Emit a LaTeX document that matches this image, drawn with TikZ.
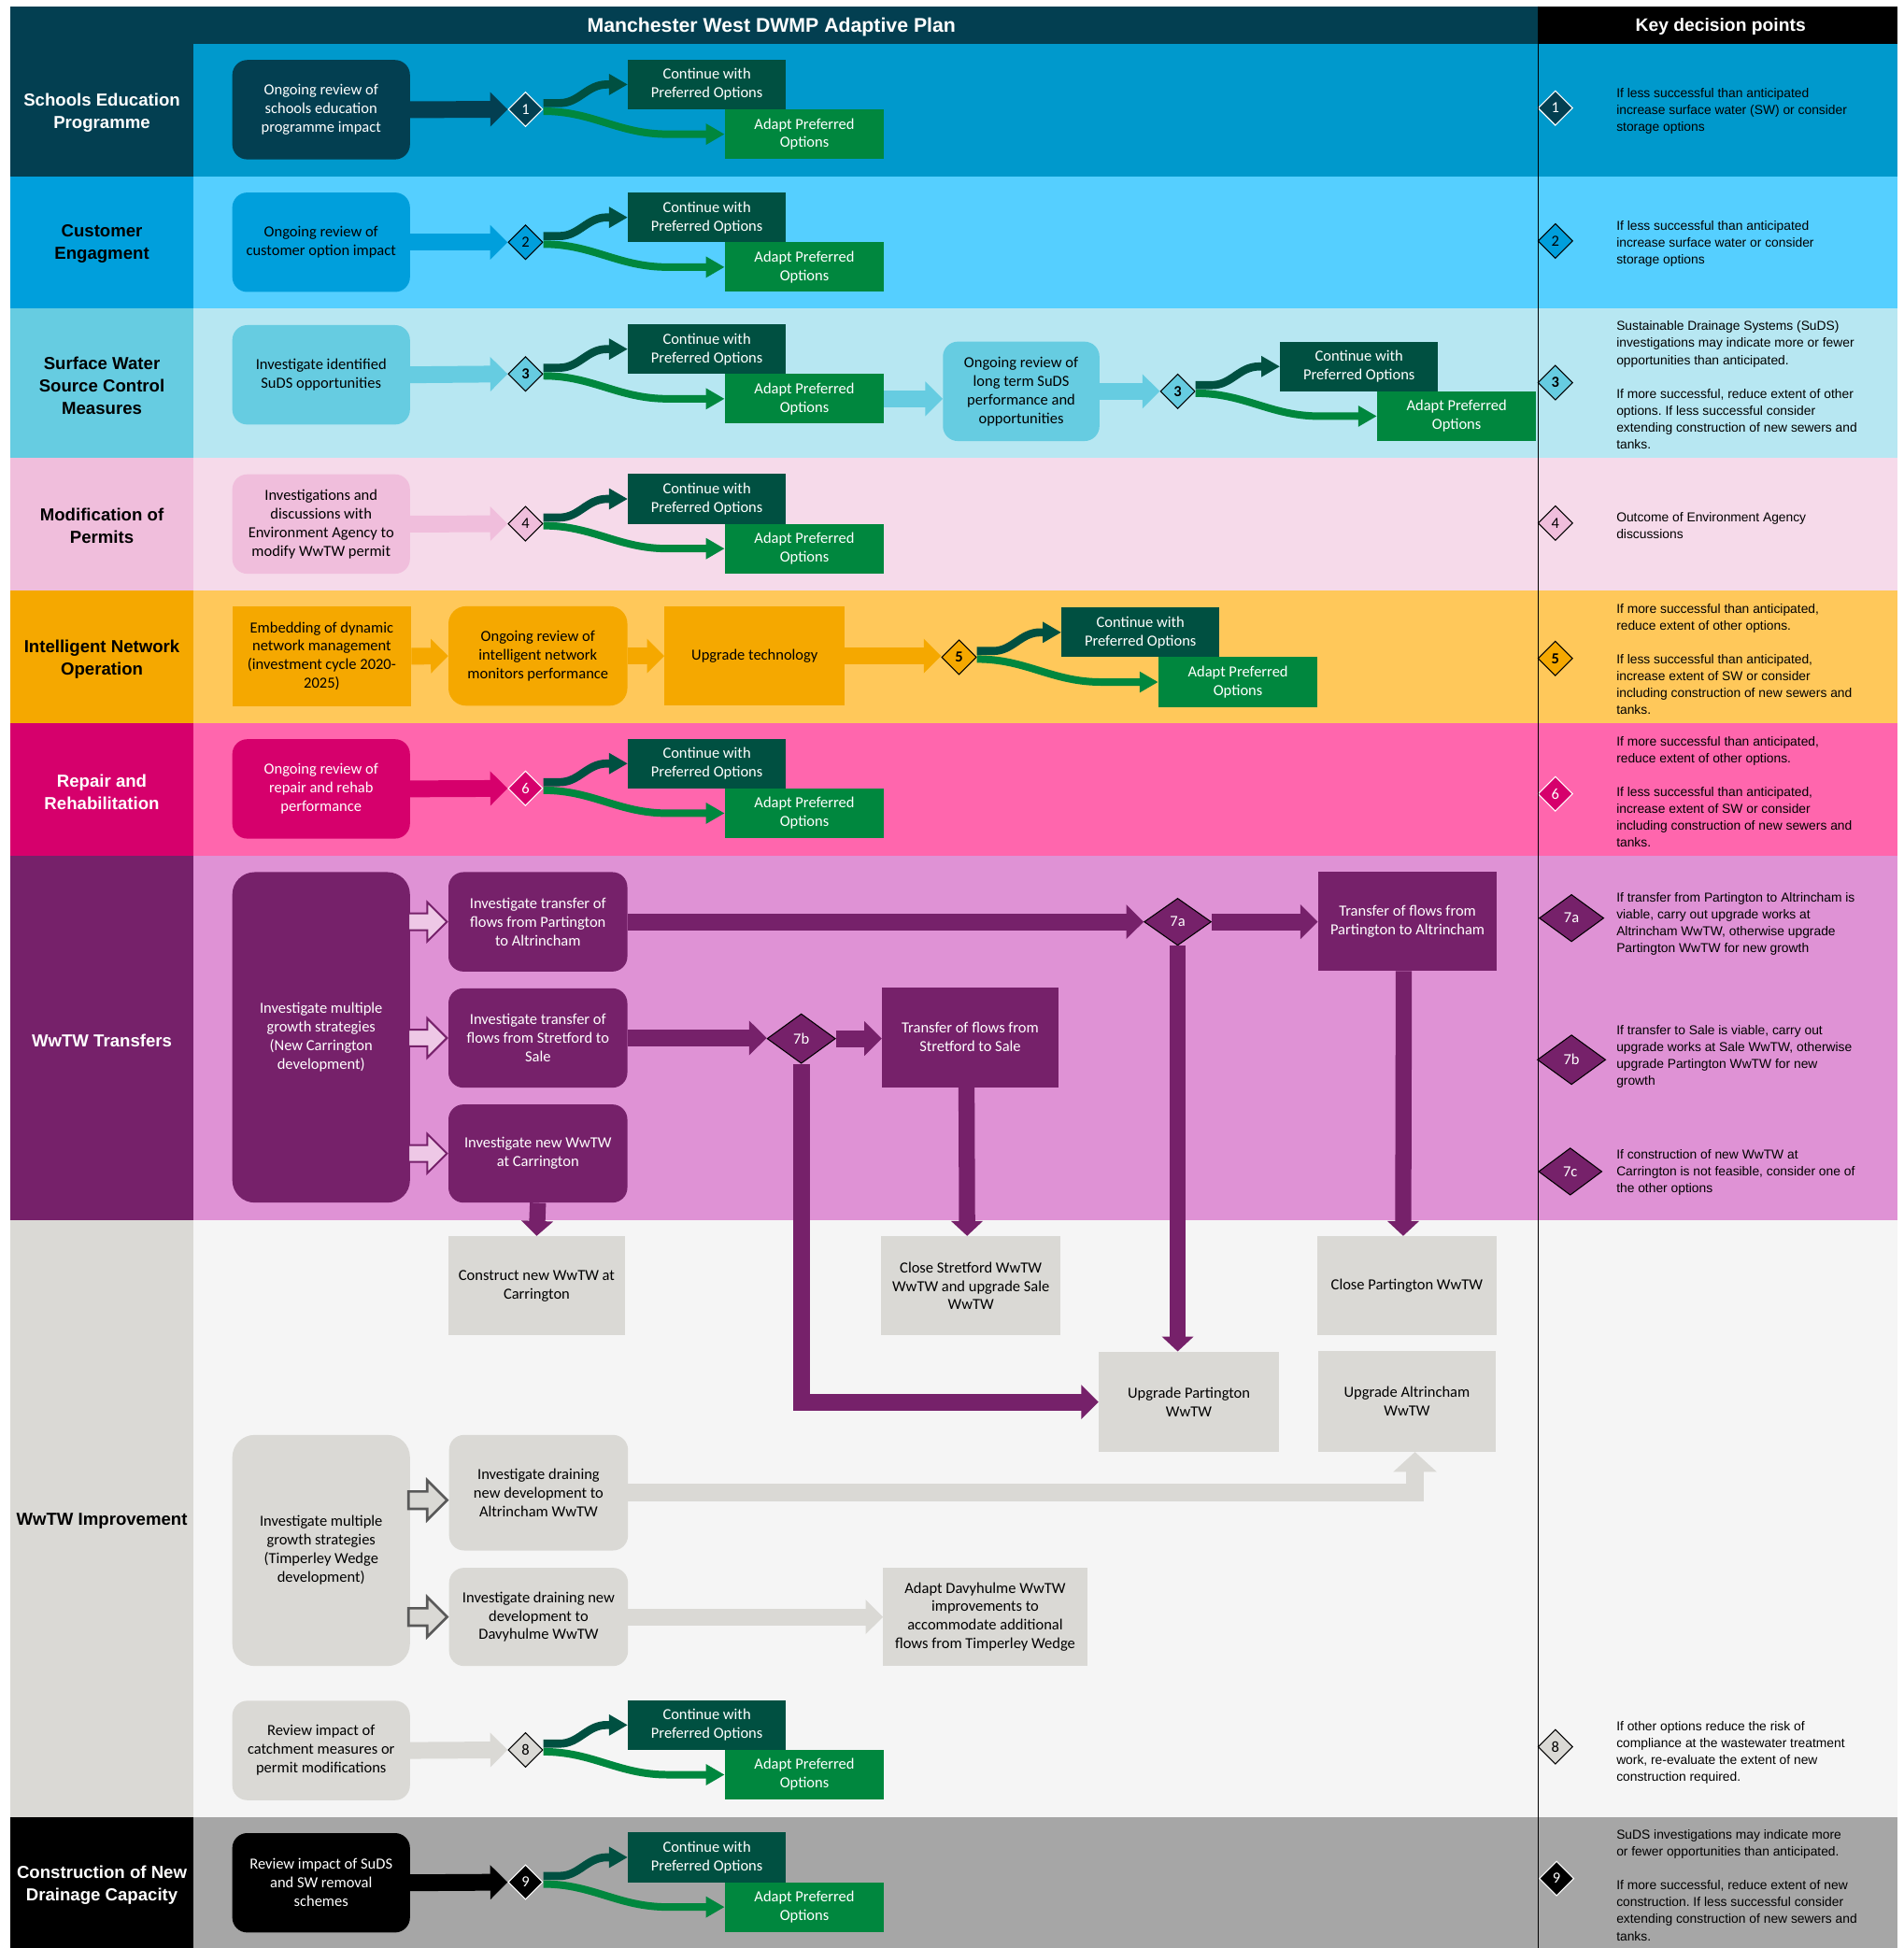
\documentclass[tikz,border=0pt]{standalone}
\usepackage{fontspec}
\setmainfont{Carlito}
\newfontfamily\arialfont{Liberation Sans}
\usetikzlibrary{arrows.meta,shapes.geometric,shapes.arrows}

% palette
\definecolor{hdrteal}{HTML}{033F51}
\definecolor{bandA}{HTML}{0099CC}
\definecolor{labB}{HTML}{009FDC}
\definecolor{bandB}{HTML}{55CFFF}
\definecolor{labC}{HTML}{66CCE1}
\definecolor{bandC}{HTML}{B7E7F2}
\definecolor{labD}{HTML}{F0BEDC}
\definecolor{bandD}{HTML}{F6DAEA}
\definecolor{labE}{HTML}{F5A800}
\definecolor{bandE}{HTML}{FFC85A}
\definecolor{labF}{HTML}{D6006C}
\definecolor{bandF}{HTML}{FF66AD}
\definecolor{labG}{HTML}{76216A}
\definecolor{bandG}{HTML}{DF92D5}
\definecolor{labH}{HTML}{DAD9D5}
\definecolor{bandH}{HTML}{F5F5F5}
\definecolor{bandI}{HTML}{A6A6A6}
\definecolor{contgreen}{HTML}{005041}
\definecolor{adaptgreen}{HTML}{00873E}
\definecolor{hollowpink}{HTML}{EEC8E6}
\definecolor{hollowedge}{HTML}{595959}

\newcommand\boxfont{\fontsize{12.4}{15}\selectfont}
\newcommand\lblfont{\arialfont\bfseries\fontsize{14}{18}\selectfont}
\newcommand\notefont{\arialfont\fontsize{10.4}{13.6}\selectfont\frenchspacing}

\tikzset{
  lbl/.style={font=\lblfont, align=center, inner sep=0pt},
  src/.style={rounded corners=12pt, minimum width=143pt, minimum height=80pt, inner sep=2pt, align=center, font=\boxfont},
  sq/.style={minimum width=144pt, minimum height=80pt, inner sep=2pt, align=center, font=\boxfont},
  contbox/.style={fill=contgreen, text=white, minimum width=127pt, minimum height=40pt, inner sep=0pt, align=center, font=\boxfont},
  adaptbox/.style={fill=adaptgreen, text=white, minimum width=128pt, minimum height=40pt, inner sep=0pt, align=center, font=\boxfont},
  dmd/.style={diamond, minimum width=28pt, minimum height=28pt, inner sep=0pt, line width=0.8pt, font=\boxfont},
  dA/.style={fill=hdrteal, draw=white, text=white},
  dB/.style={fill=labB, draw=black},
  dC/.style={fill=labC, draw=black, font=\boxfont\bfseries},
  dD/.style={fill=labD, draw=black},
  dE/.style={fill=labE, draw=black, font=\boxfont\bfseries},
  dF/.style={fill=labF, draw=white, text=white},
  dH/.style={fill=labH, draw=black},
  dI/.style={fill=black, draw=white, text=white},
  bigdmd/.style={diamond, minimum width=54pt, minimum height=38pt, inner sep=0pt, line width=0.8pt, font=\boxfont, fill=labG, draw=black, text=white},
  contcurve/.style={draw=contgreen, line width=6.5pt, -{Triangle[length=15pt,width=16pt]}},
  adaptcurve/.style={draw=adaptgreen, line width=6pt, -{Triangle[length=15pt,width=16pt]}},
  flow/.style={line width=13.5pt, -{Triangle[length=14pt,width=27pt]}},
  flowv/.style={line width=13pt, -{Triangle[length=12pt,width=25pt]}},
  flowwide/.style={line width=14pt, -{Triangle[length=16pt,width=34pt]}},
  hollow/.style={single arrow, minimum height=31pt, minimum width=30pt, single arrow head extend=9pt, inner xsep=0pt, inner ysep=6pt, line width=1.5pt},
  note/.style={font=\notefont, align=left, anchor=west, inner sep=0pt},
}

% decision point: diamond plus its two outcome boxes and the curved links
\newcommand\decision[5]{%
  \node[#5] (d#1) at (#2,#3) {#4};
  \node[contbox] (c#1) at (#2+146,#3-20) {Continue with\\Preferred Options};
  \node[adaptbox] (a#1) at (#2+224.5,#3+20) {Adapt Preferred\\Options};
  \draw[contcurve] ([yshift=5pt]d#1.east) -- ++(13,0) to[out=0,in=180] ++(38,-15) -- (c#1.west);
  \draw[adaptcurve] ([yshift=-1.5pt]d#1.east) to[out=0,in=180] ++(100,18.5) -- (a#1.west);
}

\begin{document}
\begin{tikzpicture}[x=1pt,y=-1pt]
\useasboundingbox (0,0) rectangle (1532,1568);
\fill[white] (0,0) rectangle (1532,1568);

% header strip
\fill[hdrteal] (8,5) rectangle (1238,35.3);
\fill[black] (1238,5) rectangle (1527,35.3);
\node[font=\arialfont\bfseries\fontsize{16}{18}\selectfont, text=white] (title) at (621,21.5) {Manchester West DWMP Adaptive Plan};
\node[font=\arialfont\bfseries\fontsize{14.5}{18}\selectfont, text=white] (keyhdr) at (1385,21.5) {Key decision points};

% swim lanes: label column and lane body
\fill[hdrteal] (8,35.3) rectangle (156,142);   \fill[bandA] (156,35.3) rectangle (1527,142);
\fill[labB] (8,142) rectangle (156,248);       \fill[bandB] (156,142) rectangle (1527,248);
\fill[labC] (8,248) rectangle (156,368.5);     \fill[bandC] (156,248) rectangle (1527,368.5);
\fill[labD] (8,368.5) rectangle (156,475);     \fill[bandD] (156,368.5) rectangle (1527,475);
\fill[labE] (8,475) rectangle (156,582);       \fill[bandE] (156,475) rectangle (1527,582);
\fill[labF] (8,582) rectangle (156,689);       \fill[bandF] (156,582) rectangle (1527,689);
\fill[labG] (8,689) rectangle (156,982);       \fill[bandG] (156,689) rectangle (1527,982);
\fill[labH] (8,982) rectangle (156,1463);      \fill[bandH] (156,982) rectangle (1527,1463);
\fill[black] (8,1463) rectangle (156,1568);    \fill[bandI] (156,1463) rectangle (1527,1568);

% lane titles
\node[lbl, text=white] (L1) at (82,90.5) {Schools Education\\Programme};
\node[lbl] (L2) at (82,196.5) {Customer\\Engagment};
\node[lbl] (L3) at (82,310.5) {Surface Water\\Source Control\\Measures};
\node[lbl] (L4) at (82,423.5) {Modification of\\Permits};
\node[lbl] (L5) at (82,530.5) {Intelligent Network\\Operation};
\node[lbl, text=white] (L6) at (82,637.5) {Repair and\\Rehabilitation};
\node[lbl, text=white] (L7) at (82,837.5) {WwTW Transfers};
\node[lbl] (L8) at (82,1224.5) {WwTW Improvement};
\node[lbl, text=white] (L9) at (82,1517.5) {Construction of New\\Drainage Capacity};

% schools education
\node[src, fill=hdrteal, text=white] (s1) at (258.5,88.3) {Ongoing review of\\schools education\\programme impact};
\decision{1}{423}{88}{1}{dmd,dA}
\draw[flow,hdrteal] (s1.east) -- (d1.west);

% customer engagement
\node[src, fill=labB] (s2) at (258.5,195) {Ongoing review of\\customer option impact};
\decision{2}{423}{195}{2}{dmd,dB}
\draw[flow,labB] (s2.east) -- (d2.west);

% surface water source control
\node[src, fill=labC] (s3) at (258.5,301.7) {Investigate identified\\SuDS opportunities};
\decision{3}{423}{301}{3}{dmd,dC}
\draw[flow,labC] (s3.east) -- (d3.west);
\node[src, fill=labC, minimum width=126pt] (s3b) at (822,315) {Ongoing review of\\long term SuDS\\performance and\\opportunities};
\draw[flow,labC] (a3.east) -- (a3.east -| s3b.west);
\decision{3b}{948}{315}{3}{dmd,dC}
\draw[flow,labC] (s3b.east) -- (d3b.west);

% modification of permits
\node[src, fill=labD] (s4) at (258.5,421.8) {Investigations and\\discussions with\\Environment Agency to\\modify WwTW permit};
\decision{4}{423}{421.6}{4}{dmd,dD}
\draw[flow,labD] (s4.east) -- (d4.west);

% intelligent network operation
\node[sq, fill=labE] (e5) at (259,528.2) {Embedding of dynamic\\network management\\(investment cycle 2020-\\2025)};
\node[src, fill=labE, minimum width=144pt, rounded corners=14pt] (o5) at (433,528) {Ongoing review of\\intelligent network\\monitors performance};
\node[sq, fill=labE, minimum width=145pt] (u5) at (607.5,528) {Upgrade technology};
\decision{5}{772}{529}{5}{dmd,dE}
\draw[flow,labE] (e5.east) -- (o5.west);
\draw[flow,labE] (o5.east) -- (u5.west);
\draw[flow,labE] (u5.east) -- (u5.east -| d5.west);

% repair and rehabilitation
\node[src, fill=labF, text=white] (s6) at (258.5,635) {Ongoing review of\\repair and rehab\\performance};
\decision{6}{423}{634.6}{6}{dmd,dF}
\draw[flow,labF] (s6.east) -- (d6.west);

% WwTW transfers
\node[src, fill=labG, text=white, minimum height=266pt, rounded corners=18pt] (gm) at (258.5,835) {Investigate multiple\\growth strategies\\(New Carrington\\development)};
\node[src, fill=labG, text=white, minimum width=144pt] (it1) at (433,742) {Investigate transfer of\\flows from Partington\\to Altrincham};
\node[src, fill=labG, text=white, minimum width=144pt] (it2) at (433,835.5) {Investigate transfer of\\flows from Stretford to\\Sale};
\node[src, fill=labG, text=white, minimum width=144pt, minimum height=79pt] (it3) at (433,928.5) {Investigate new WwTW\\at Carrington};
\node[hollow, fill=hollowpink, draw=labG, anchor=east] (h1) at (it1.west) {};
\node[hollow, fill=hollowpink, draw=labG, anchor=east] (h2) at (it2.west) {};
\node[hollow, fill=hollowpink, draw=labG, anchor=east] (h3) at (it3.west) {};
\node[bigdmd] (d7a) at (948,742) {7a};
\node[bigdmd, minimum width=55pt, minimum height=40pt] (d7b) at (645,836) {7b};
\node[sq, fill=labG, text=white] (t1) at (1133,741.5) {Transfer of flows from\\Partington to Altrincham};
\node[sq, fill=labG, text=white, minimum width=142pt] (t2) at (781,835) {Transfer of flows from\\Stretford to Sale};

% WwTW improvement outcomes
\node[sq, fill=labH, minimum width=142pt] (con) at (432,1035) {Construct new WwTW at\\Carrington};
\node[sq, fill=labH] (cs) at (781.5,1035) {Close Stretford WwTW\\WwTW and upgrade Sale\\WwTW};
\node[sq, fill=labH] (cp) at (1132.5,1035) {Close Partington WwTW};
\node[sq, fill=labH, minimum width=145pt, minimum height=81pt] (up) at (957,1128.5) {Upgrade Partington\\WwTW};
\node[sq, fill=labH, minimum width=143pt, minimum height=81pt] (ua) at (1132.5,1128) {Upgrade Altrincham\\WwTW};

\draw[flow,labG] (it1.east) -- (d7a.west);
\draw[flow,labG] (d7a.east) -- (d7a.east -| t1.west);
\draw[flow,labG] (it2.east) -- (it2.east -| d7b.west);
\draw[flow,labG] (d7b.east) -- (d7b.east -| t2.west);
\draw[flow,labG] (d7b.south) |- (up.west);
\draw[flowv,labG] (d7a.south) -- (d7a.south |- up.north);
\draw[flowv,labG] ([xshift=-3pt]t2.south) -- ([xshift=-3pt]cs.north);
\draw[flowv,labG] ([xshift=-3pt]t1.south) -- ([xshift=-3pt]cp.north);
\draw[flowv,labG] (it3.south) -- (con.north);

% Timperley Wedge strategies
\node[src, fill=labH, minimum height=186pt, rounded corners=18pt] (tw) at (258.5,1248) {Investigate multiple\\growth strategies\\(Timperley Wedge\\development)};
\node[src, fill=labH, minimum width=144pt, minimum height=93pt] (ida) at (433.5,1201.5) {Investigate draining\\new development to\\Altrincham WwTW};
\node[src, fill=labH, minimum width=144pt, minimum height=79pt] (idd) at (433.5,1301.5) {Investigate draining new\\development to\\Davyhulme WwTW};
\node[sq, fill=labH, minimum width=164pt, minimum height=79pt] (dav) at (793,1301.5) {Adapt Davyhulme WwTW\\improvements to\\accommodate additional\\flows from Timperley Wedge};
\node[hollow, fill=labH, draw=hollowedge, line width=2pt, anchor=east] (h4) at ([yshift=-6pt]ida.west) {};
\node[hollow, fill=labH, draw=hollowedge, line width=2pt, anchor=east] (h5) at (idd.west) {};
\draw[flowwide,labH] (ida.east) -| ([xshift=6.5pt]ua.south);
\draw[flow,labH] (idd.east) -- (dav.west);

% catchment review
\node[src, fill=labH] (s8) at (258.5,1409) {Review impact of\\catchment measures or\\permit modifications};
\decision{8}{423}{1408.5}{8}{dmd,dH}
\draw[flow,labH] (s8.east) -- (d8.west);

% new drainage capacity
\node[src, fill=black, text=white] (s9) at (258.5,1515.5) {Review impact of SuDS\\and SW removal\\schemes};
\decision{9}{423}{1515}{9}{dmd,dI}
\draw[flow,black] (s9.east) -- (d9.west);

% key decision points column
\node[dmd,dA] (k1) at (1252,87) {1};
\node[note] (n1) at (1301,89.5) {If less successful than anticipated\\increase surface water (SW) or consider\\storage options};
\node[dmd,dB] (k2) at (1252,194) {2};
\node[note] (n2) at (1301,196.5) {If less successful than anticipated\\increase surface water or consider\\storage options};
\node[dmd,dC] (k3) at (1252,308) {3};
\node[note] (n3) at (1301,310) {Sustainable Drainage Systems (SuDS)\\investigations may indicate more or fewer\\opportunities than anticipated.\\[13.6pt]If more successful, reduce extent of other\\options. If less successful consider\\extending construction of new sewers and\\tanks.};
\node[dmd,dD] (k4) at (1252,421) {4};
\node[note] (n4) at (1301,423) {Outcome of Environment Agency\\discussions};
\node[dmd,dE] (k5) at (1252,530) {5};
\node[note] (n5) at (1301,530.5) {If more successful than anticipated,\\reduce extent of other options.\\[13.6pt]If less successful than anticipated,\\increase extent of SW or consider\\including construction of new sewers and\\tanks.};
\node[dmd,dF] (k6) at (1252,639) {6};
\node[note] (n6) at (1301,637.5) {If more successful than anticipated,\\reduce extent of other options.\\[13.6pt]If less successful than anticipated,\\increase extent of SW or consider\\including construction of new sewers and\\tanks.};
\node[bigdmd, minimum width=52pt] (k7a) at (1265,739) {7a};
\node[note] (n7a) at (1301,743.5) {If transfer from Partington to Altrincham is\\viable, carry out upgrade works at\\Altrincham WwTW, otherwise upgrade\\Partington WwTW for new growth};
\node[bigdmd, minimum width=55pt, minimum height=40pt] (k7b) at (1265,853) {7b};
\node[note] (n7b) at (1301,850.5) {If transfer to Sale is viable, carry out\\upgrade works at Sale WwTW, otherwise\\upgrade Partington WwTW for new\\growth};
\node[bigdmd, minimum width=51pt] (k7c) at (1264,943) {7c};
\node[note] (n7c) at (1301,943.5) {If construction of new WwTW at\\Carrington is not feasible, consider one of\\the other options};
\node[dmd,dH] (k8) at (1252,1406) {8};
\node[note] (n8) at (1301,1410.5) {If other options reduce the risk of\\compliance at the wastewater treatment\\work, re-evaluate the extent of new\\construction required.};
\node[dmd,dI] (k9) at (1253,1512) {9};
\node[note] (n9) at (1301,1517.5) {SuDS investigations may indicate more\\or fewer opportunities than anticipated.\\[13.6pt]If more successful, reduce extent of new\\construction. If less successful consider\\extending construction of new sewers and\\tanks.};

% column divider
\draw[black, line width=1pt] (1238,5) -- (1238,1568);
\end{tikzpicture}
\end{document}
